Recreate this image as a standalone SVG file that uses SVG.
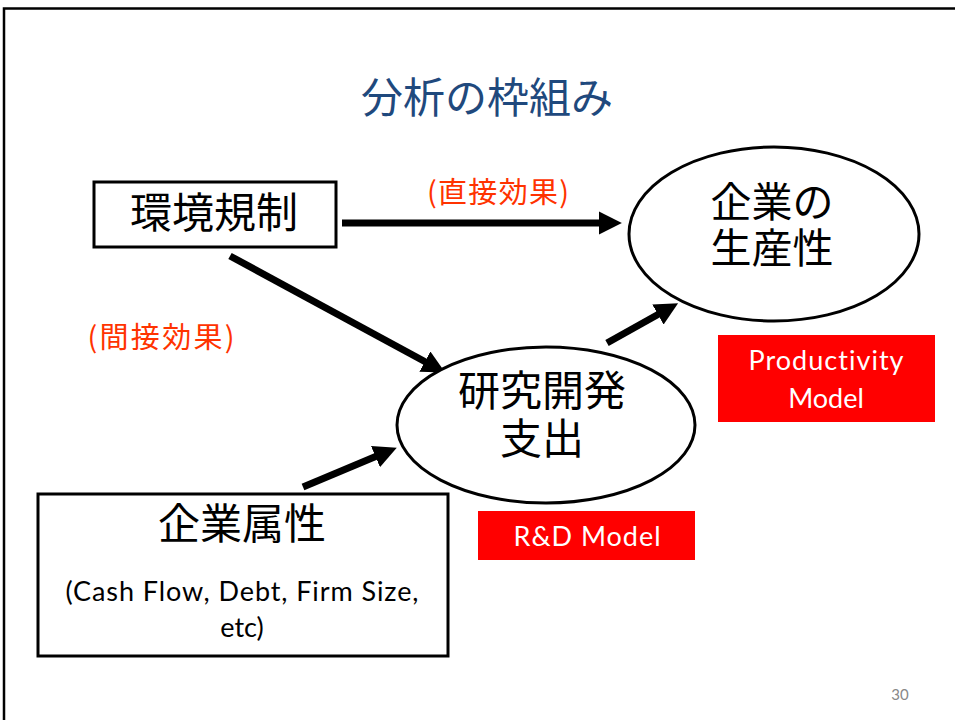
<svg xmlns="http://www.w3.org/2000/svg" width="955" height="720" viewBox="0 0 955 720">
<style>
.jp{font-family:"Noto Sans CJK JP","Noto Sans",sans-serif;}
.en{font-family:"Lato","Open Sans","Liberation Sans",sans-serif;font-variant-ligatures:none;}
.box{fill:#fff;stroke:#000;stroke-width:3;}
.ell{fill:#fff;stroke:#000;stroke-width:3;}
.conn{stroke:#000;stroke-width:7;fill:none;}
.red{fill:#ff3300;}
.tag{fill:#ff0000;}
</style>
<defs>
<marker id="ah" viewBox="0 0 10 10" refX="4" refY="5" markerWidth="3.3" markerHeight="3.3" orient="auto" markerUnits="strokeWidth">
<path d="M0,0 L10,5 L0,10 z" fill="#000"/>
</marker>
</defs>
<rect x="0" y="0" width="955" height="720" fill="#fff"/>
<rect x="4" y="8.5" width="980" height="740" fill="none" stroke="#000" stroke-width="2.5"/>
<text class="jp" x="487" y="113" font-size="42" fill="#1f497d" text-anchor="middle">分析の枠組み</text>

<g id="connectors">
<line class="conn" x1="342" y1="223" x2="608" y2="223" marker-end="url(#ah)"/>
<line class="conn" x1="230" y1="256" x2="433" y2="366" marker-end="url(#ah)"/>
<line class="conn" x1="607" y1="343" x2="666" y2="310" marker-end="url(#ah)"/>
<line class="conn" x1="303" y1="487" x2="384" y2="453" marker-end="url(#ah)"/>
</g>

<g id="label-direct"><text class="jp red" x="498" y="203" font-size="29" text-anchor="middle" textLength="142">(直接効果)</text></g>
<g id="label-indirect"><text class="jp red" x="161" y="348" font-size="29" text-anchor="middle" textLength="147">(間接効果)</text></g>

<g id="node-regulation">
<rect class="box" x="94" y="182" width="242" height="65"/>
<text class="jp" x="214" y="228" font-size="42" text-anchor="middle">環境規制</text>
</g>

<g id="node-productivity">
<ellipse class="ell" cx="774" cy="234" rx="145" ry="87"/>
<text class="jp" x="772" y="217" font-size="41" text-anchor="middle">企業の</text>
<text class="jp" x="772" y="263" font-size="41" text-anchor="middle">生産性</text>
</g>

<g id="node-rd">
<ellipse class="ell" cx="546" cy="425" rx="149" ry="78"/>
<text class="jp" x="542" y="406" font-size="42" text-anchor="middle">研究開発</text>
<text class="jp" x="542" y="454" font-size="42" text-anchor="middle">支出</text>
</g>

<g id="node-firm">
<rect class="box" x="38" y="494" width="410" height="162"/>
<text class="jp" x="242" y="539" font-size="42" text-anchor="middle">企業属性</text>
<text class="en" x="242" y="601" font-size="27" text-anchor="middle" textLength="353">(Cash Flow, Debt, Firm Size,</text>
<text class="en" x="242" y="637" font-size="27" text-anchor="middle">etc)</text>
</g>

<g id="tag-rd">
<rect class="tag" x="478" y="511" width="217" height="49"/>
<text class="en" x="587" y="546" font-size="27" fill="#fff" text-anchor="middle" textLength="147">R&amp;D Model</text>
</g>

<g id="tag-prod">
<rect class="tag" x="718" y="335" width="217" height="87"/>
<text class="en" x="826" y="370" font-size="27" fill="#fff" text-anchor="middle" textLength="155">Productivity</text>
<text class="en" x="826" y="408" font-size="27" fill="#fff" text-anchor="middle">Model</text>
</g>

<text class="en" x="900" y="700" font-size="15" fill="#888" text-anchor="middle">30</text>
</svg>
